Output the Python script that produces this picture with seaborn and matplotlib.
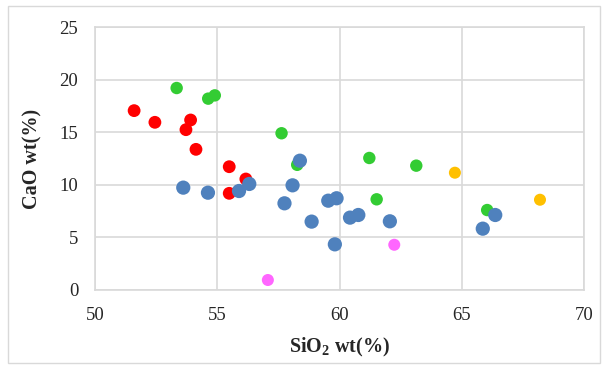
import numpy as np
import pandas as pd
import matplotlib
matplotlib.use("Agg")
import matplotlib.pyplot as plt
import seaborn as sns
from matplotlib.patches import Rectangle

# SiO2 / CaO values, one group per colour
red_sio2 = [51.6, 52.45, 53.91, 53.72, 54.13, 55.49, 56.17, 55.49]
red_cao = [17.05, 15.94, 16.16, 15.24, 13.37, 11.72, 10.55, 9.19]

green_sio2 = [53.34, 54.63, 54.9, 57.63, 58.27, 61.22, 63.14, 61.52, 66.04]
green_cao = [19.2, 18.19, 18.5, 14.9, 11.9, 12.55, 11.82, 8.62, 7.6]

orange_sio2 = [64.72, 68.2]
orange_cao = [11.15, 8.58]

pink_sio2 = [57.07, 62.24]
pink_cao = [0.95, 4.3]

blue_sio2 = [53.61, 54.62, 55.89, 56.31, 58.38, 58.08, 57.75, 59.54, 59.88,
             58.86, 60.43, 60.77, 62.06, 59.81, 66.37, 65.86]
blue_cao = [9.73, 9.25, 9.41, 10.08, 12.29, 9.95, 8.24, 8.49, 8.72,
            6.5, 6.88, 7.13, 6.53, 4.34, 7.13, 5.83]

groups = ["red", "green", "orange", "pink", "blue"]
colors = {"red": "#FF0000", "green": "#33CC33", "orange": "#FFC000",
          "pink": "#FF66FF", "blue": "#4F81BD"}
sizes = {"red": 85, "green": 80, "orange": 75, "pink": 75, "blue": 105}

frames = []
for g, xs, ys in [("red", red_sio2, red_cao), ("green", green_sio2, green_cao),
                  ("orange", orange_sio2, orange_cao), ("pink", pink_sio2, pink_cao),
                  ("blue", blue_sio2, blue_cao)]:
    frames.append(pd.DataFrame({"SiO2": xs, "CaO": ys, "group": g}))
df = pd.concat(frames, ignore_index=True)

sns.set_theme(style="white")
plt.rcParams["font.family"] = ["Liberation Serif", "DejaVu Serif"]

fig = plt.figure(figsize=(6.07, 3.69), dpi=100)
ax = fig.add_axes([95 / 607, 1 - 290 / 369, (584 - 95) / 607, (290 - 27) / 369])

for g in groups:
    sub = df[df["group"] == g]
    sns.scatterplot(data=sub, x="SiO2", y="CaO", color=colors[g], s=sizes[g],
                    edgecolor="none", linewidth=0, ax=ax, legend=False, zorder=3)

ax.set_xlim(50, 70)
ax.set_ylim(0, 25)
ax.set_xticks([50, 55, 60, 65, 70])
ax.set_yticks([0, 5, 10, 15, 20, 25])
ax.grid(True, color="#D9D9D9", linewidth=1.2, zorder=0)
ax.set_axisbelow(True)
for sp in ax.spines.values():
    sp.set_color("#D9D9D9")
    sp.set_linewidth(1.2)
ax.tick_params(axis="both", length=0, labelsize=13.5, colors="#262626")
ax.tick_params(axis="x", pad=12)
ax.tick_params(axis="y", pad=12)

ax.set_xlabel("SiO$_\\mathregular{2}$ wt(%)", fontsize=14.5, fontweight="bold", labelpad=9)
ax.set_ylabel("CaO wt(%)", fontsize=14.5, fontweight="bold", labelpad=12)

# outer chart border
fig.patches.append(Rectangle((8 / 607, 6 / 369), 592 / 607, 357 / 369,
                             transform=fig.transFigure, fill=False,
                             edgecolor="#D9D9D9", linewidth=1))

fig.savefig("out.png", dpi=100)
